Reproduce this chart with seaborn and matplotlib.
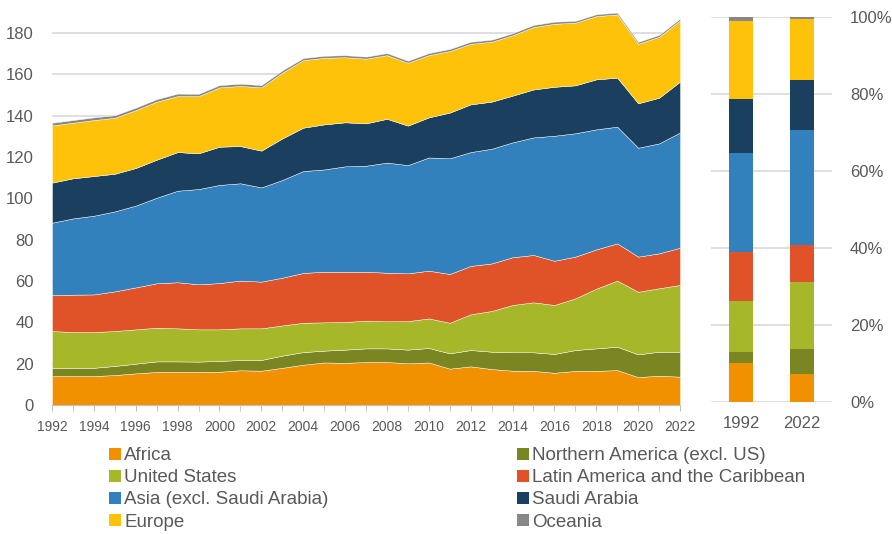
import matplotlib
matplotlib.use("Agg")
import matplotlib.pyplot as plt
import seaborn as sns
import pandas as pd
import numpy as np
from matplotlib.patches import Patch
from matplotlib.ticker import PercentFormatter

years = list(range(1992, 2023))

africa = [14.0, 14.0, 14.0, 14.5, 15.3, 16.0, 16.0, 16.0, 16.1, 16.8, 16.6, 18.0, 19.5, 20.6, 20.4, 20.8,
          20.8, 20.2, 20.6, 17.6, 18.7, 17.4, 16.6, 16.5, 15.6, 16.5, 16.5, 16.9, 13.5, 14.2, 13.7]
north_america = [3.9, 4.0, 4.0, 4.4, 4.7, 5.1, 5.1, 5.0, 5.2, 5.0, 5.2, 5.9, 6.1, 5.7, 6.4, 6.6,
                 6.6, 6.6, 7.0, 7.4, 7.9, 8.4, 8.9, 9.0, 9.1, 10.1, 10.9, 11.3, 11.0, 11.6, 12.1]
united_states = [17.9, 17.3, 17.3, 16.9, 16.6, 16.3, 16.0, 15.6, 15.3, 15.3, 15.3, 14.6, 14.2, 13.7, 13.4, 13.4,
                 13.1, 13.8, 14.3, 14.8, 17.3, 19.7, 22.9, 24.2, 23.7, 25.0, 28.9, 32.0, 30.3, 30.7, 32.3]
latin_america = [17.4, 18.1, 18.2, 19.2, 20.3, 21.5, 22.3, 21.8, 22.4, 23.1, 22.6, 23.1, 24.1, 24.5, 24.3, 23.7,
                 23.5, 23.1, 23.1, 23.6, 23.4, 23.0, 23.1, 22.9, 21.4, 20.2, 19.0, 18.0, 17.0, 16.9, 18.0]
asia = [35.0, 36.9, 38.1, 38.7, 39.6, 41.4, 44.3, 46.1, 47.5, 47.1, 45.6, 47.3, 49.3, 49.5, 51.0, 51.3,
        53.3, 52.4, 54.8, 56.0, 55.1, 55.5, 55.6, 56.9, 60.5, 59.7, 58.1, 56.5, 52.7, 53.2, 55.8]
saudi_arabia = [19.4, 19.4, 19.2, 18.2, 18.2, 18.4, 18.7, 17.3, 18.5, 18.0, 17.8, 20.1, 21.0, 21.8, 21.3, 20.5,
                21.2, 19.1, 19.4, 22.1, 23.1, 22.8, 22.6, 23.2, 23.7, 23.2, 24.2, 23.7, 21.5, 22.1, 24.6]
europe = [27.7, 26.9, 27.1, 27.1, 28.0, 28.1, 27.1, 27.7, 28.7, 29.1, 30.6, 31.8, 32.7, 32.2, 31.5, 31.3,
          30.8, 30.4, 30.1, 29.8, 29.3, 29.0, 29.2, 30.2, 30.5, 30.3, 30.6, 30.6, 28.8, 29.5, 29.6]
oceania = [1.3, 1.3, 1.3, 1.2, 1.2, 1.2, 1.2, 1.1, 1.1, 1.1, 1.1, 1.1, 1.0, 1.0, 1.0, 1.0,
           1.0, 1.0, 1.0, 1.0, 1.0, 1.0, 1.0, 1.0, 1.0, 0.9, 0.9, 0.9, 0.9, 0.9, 0.9]

regions = ["Africa", "Northern America (excl. US)", "United States", "Latin America and the Caribbean",
           "Asia (excl. Saudi Arabia)", "Saudi Arabia", "Europe", "Oceania"]
colors = ["#F29100", "#7A8622", "#A6B72A", "#E05228", "#3281BD", "#1B3F5E", "#FEC20A", "#878787"]
bar_years = ["1992", "2022"]

series = [africa, north_america, united_states, latin_america, asia, saudi_arabia, europe, oceania]
df = pd.DataFrame(dict(zip(regions, series)), index=years)

sns.set_style("white")
plt.rcParams['font.family'] = ['Liberation Sans', 'DejaVu Sans']
grey_txt = "#595959"
grid_c = "#D9D9D9"

fig = plt.figure(figsize=(8.92, 5.34), dpi=100)

# main stacked area
ax1 = fig.add_axes([52/892, 1 - 405/534, 628/892, 405/534])
ax1.stackplot(df.index, *[df[r] for r in regions], colors=colors, edgecolor="white", linewidth=0.3)
ax1.set_xlim(1992, 2022)
ax1.set_ylim(0, 196)
ax1.set_yticks(range(0, 181, 20))
ax1.yaxis.grid(True, color=grid_c, linewidth=1.2)
ax1.set_axisbelow(True)
ax1.set_xticks(range(1992, 2023, 2))
ax1.set_xticks(range(1992, 2023), minor=True)
for s in ["top", "right", "left"]:
    ax1.spines[s].set_visible(False)
ax1.spines["bottom"].set_color("#BFBFBF")
ax1.tick_params(axis="y", length=0, pad=13, labelsize=12, labelcolor=grey_txt)
ax1.tick_params(axis="x", which="both", direction="out", length=4, color="#BFBFBF",
                bottom=True, labelcolor=grey_txt, labelsize=10)
ax1.tick_params(axis="x", which="major", pad=7)

# 100% stacked bars for 1992 and 2022
ax2 = fig.add_axes([711/892, 1 - 402/534, 121/892, 385/534])
share = df.loc[[1992, 2022], regions]
share = share.div(share.sum(axis=1), axis=0)
cum = share.cumsum(axis=1)
for r, c in reversed(list(zip(regions, colors))):
    bdf = pd.DataFrame({"year": bar_years, "value": cum[r].values})
    sns.barplot(data=bdf, x="year", y="value", color=c, saturation=1, width=0.39,
                errorbar=None, ax=ax2, linewidth=0, zorder=3)
ax2.set_xlim(-0.5, 1.5)
ax2.set_ylim(0, 1)
ax2.set_yticks(np.arange(0, 1.01, 0.2))
ax2.yaxis.set_major_formatter(PercentFormatter(1.0, decimals=0))
ax2.yaxis.tick_right()
ax2.yaxis.grid(True, color=grid_c, linewidth=1.2)
ax2.set_axisbelow(True)
ax2.set_xlabel("")
ax2.set_ylabel("")
for s in ax2.spines.values():
    s.set_visible(False)
ax2.tick_params(axis="y", length=0, pad=13, labelsize=12, labelcolor=grey_txt)
ax2.tick_params(axis="x", length=0, pad=10, labelsize=12, labelcolor=grey_txt)

# legend in two columns
handles = [Patch(facecolor=c, edgecolor="none") for c in colors]
left_idx = [0, 2, 4, 6]
right_idx = [1, 3, 5, 7]
for idx, xpos in [(left_idx, 100/892), (right_idx, 508/892)]:
    fig.legend([handles[i] for i in idx], [regions[i] for i in idx], loc="upper left",
               bbox_to_anchor=(xpos, 1 - 438/534), frameon=False, borderpad=0,
               handlelength=0.6, handleheight=0.6, handletextpad=0.2, labelspacing=0.27,
               prop={"size": 13.5}, labelcolor=grey_txt)

fig.savefig("out.png", dpi=100)
